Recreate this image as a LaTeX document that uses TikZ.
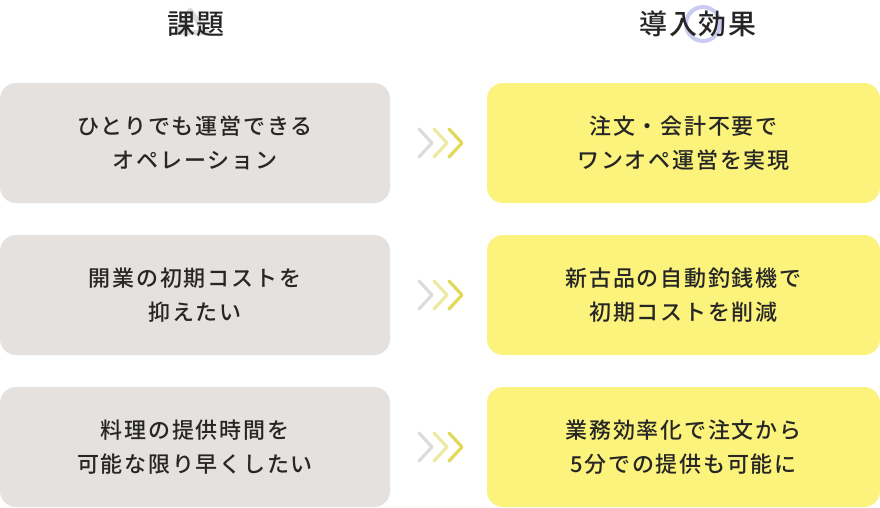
\documentclass[tikz,border=0pt]{standalone}
\usepackage{fontspec}
\newfontfamily\jp[LetterSpace=8,BoldFont={Noto Sans CJK JP Bold}]{Noto Sans CJK JP Medium}
\newfontfamily\jph[LetterSpace=6]{Noto Sans CJK JP Medium}
\definecolor{gbox}{HTML}{E4E1DE}
\definecolor{ybox}{HTML}{FBF37C}
\definecolor{ch1}{HTML}{DEDBD8}
\definecolor{ch2}{HTML}{EEE9A2}
\definecolor{ch3}{HTML}{E2D95A}
\definecolor{tri}{HTML}{DCDCDC}
\definecolor{ring}{HTML}{C9CCF0}
\begin{document}
\begin{tikzpicture}[x=1pt,y=-1pt,
  box/.style={rounded corners=16pt,minimum width=390pt,minimum height=120pt,inner sep=0pt,align=center,font=\jp\fontsize{22}{34}\selectfont,text=black!85},
  gb/.style={box,fill=gbox},
  yb/.style={box,fill=ybox,minimum width=393pt},
  chev/.style={line width=3.2pt,line cap=round,line join=round},
  head/.style={font=\jph\fontsize{28}{30}\selectfont,text=black!85}]
\useasboundingbox (0,0) rectangle (880,507);
% header decorations
\fill[tri,rounded corners=3pt] (172,35) -- (190,6) -- (211,35) -- cycle;
\fill[white] (181,30) -- (190,15) -- (200,30) -- cycle;
\draw[ring,line width=4pt] (703,24) circle (17);
\node[head] (h1) at (196,24) {課題};
\node[head] (h2) at (698,24) {導入効果};
% boxes
\foreach \i/\y/\l/\r in {1/143/{ひとりでも運営できる\\オペレーション}/{注文・会計不要で\\ワンオペ運営を実現},
  2/295/{開業の初期コストを\\抑えたい}/{新古品の自動釣銭機で\\初期コストを削減},
  3/447/{料理の提供時間を\\可能な限り早くしたい}/{業務効率化で注文から\\5分での提供も可能に}}{
  \node[gb] (l\i) at (195,\y) {\l};
  \node[yb] (r\i) at (683.5,\y) {\r};
  \draw[chev,ch1] (419,\y-14) -- (432,\y) -- (419,\y+14);
  \draw[chev,ch2] (434,\y-14) -- (447,\y) -- (434,\y+14);
  \draw[chev,ch3] (449,\y-14) -- (462,\y) -- (449,\y+14);
}
\end{tikzpicture}
\end{document}
